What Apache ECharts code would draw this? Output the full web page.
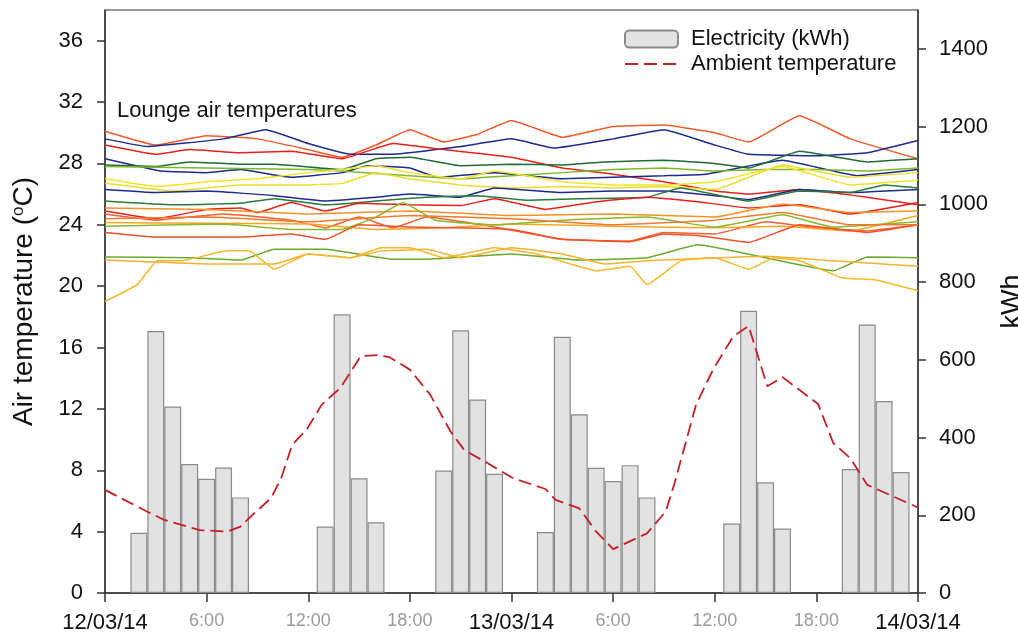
<!DOCTYPE html>
<html>
<head>
<meta charset="utf-8">
<script src="https://cdn.jsdelivr.net/npm/echarts@6/dist/echarts.min.js"></script>
<style>
html,body{margin:0;padding:0;background:#fff;}
#chart{width:1018px;height:639px;}
</style>
</head>
<body>
<div id="chart"></div>
<script>
// ---- Data ----
var xTickLabels = ['12/03/14','6:00','12:00','18:00','13/03/14','6:00','12:00','18:00','14/03/14'];

var elecHours = [2,3,4,5,6,7,8, 13,14,15,16, 20,21,22,23, 26,27,28,29,30,31,32, 37,38,39,40, 44,45,46,47];
var elecKWh   = [155,674,480,332,294,323,246, 171,717,295,182, 315,676,498,307, 157,659,460,322,288,329,246, 179,726,285,166, 319,691,494,311];

var ambient = [[0,6.72],[2.5,5.3],[3.5,4.76],[5.6,4.1],[7.2,4.0],[8,4.33],[8.6,4.98],[9.8,6.18],[10.4,7.48],[11.05,9.66],[11.9,10.64],[12.8,12.28],[13.9,13.37],[15.1,15.44],[16.1,15.5],[16.8,15.37],[18,14.56],[19.2,12.93],[20.4,10.53],[21.2,9.33],[22.4,8.58],[24.1,7.48],[26,6.78],[26.6,6.07],[28,5.52],[29,4.0],[30,2.86],[32,3.89],[33.1,5.3],[33.6,7.05],[34.9,12.28],[35.9,14.56],[37.1,16.74],[38,17.4],[39.1,13.48],[40,14.07],[42.1,12.32],[43,9.77],[44,8.79],[45,7.05],[48,5.57]];

var loungeA = [[0,30.1],[3,29.2],[6,29.8],[9,29.6],[12,28.9],[14,28.4],[16,29.2],[18,30.2],[20,29.4],[22,29.9],[24,30.8],[27,29.7],[30,30.4],[33,30.5],[36,30.0],[38,29.4],[41,31.1],[44,29.6],[48,28.3]];
var loungeB = [[0,29.6],[2.5,29.1],[7,29.6],[9.5,30.2],[12,29.3],[14.5,28.6],[17,28.6],[21,29.1],[24,29.6],[26.5,29.0],[30,29.6],[33,30.2],[36,29.2],[38,28.6],[42,28.5],[45,28.7],[48,29.5]];
var loungeC = [[0,29.2],[3,28.6],[5,28.9],[8,28.7],[11,28.8],[14,28.3],[17,29.3],[20,28.9],[24,28.4],[27,27.7],[30,27.3],[33,26.8],[36,26.2],[38,26.0],[41,26.3],[45,25.8],[48,25.3]];
var loungeD = [[0,28.3],[3.3,27.5],[6,27.4],[8,27.6],[11,27.1],[14,27.4],[15.5,27.85],[18,27.7],[19.6,27.1],[23,27.4],[27,27.0],[30,27.1],[33,27.2],[35.5,27.3],[40,28.2],[44.4,27.2],[48,27.6]];
var loungeE = [[0,27.9],[3,27.8],[5,28.1],[8,27.95],[10,27.95],[14,27.6],[16,28.3],[18,28.4],[21,27.85],[24,27.95],[27,27.9],[29.5,28.1],[33,28.2],[36,28.0],[38,27.7],[41,28.8],[45,28.1],[48,28.3]];
var loungeF = [[0,27.8],[6,27.7],[12,27.6],[14,27.5],[18,27.2],[21,27.0],[24,27.2],[27,27.4],[30,27.6],[33,27.7],[36,27.5],[39,27.6],[42,27.6],[45,27.5],[48,27.7]];
var loungeG = [[0,27.0],[3,26.5],[6,26.8],[9,27.0],[12,27.4],[14,27.6],[16,27.85],[18,27.4],[21,27.0],[23,27.5],[27,26.8],[30,26.6],[33,26.6],[36,26.8],[40,27.8],[44,26.6],[48,26.9]];
var loungeH = [[0,26.7],[4,26.2],[8,26.6],[12,26.6],[14,26.7],[16,27.4],[18,27.0],[21,26.6],[24,26.4],[27,26.5],[30,26.4],[33,26.5],[36,26.3],[40,27.9],[44,27.1],[48,27.4]];
var loungeI = [[0,26.3],[3,26.1],[6,26.2],[10,25.9],[13,25.55],[16,25.8],[18,26.0],[21,25.8],[23,26.4],[27,26.1],[30,26.2],[33,26.2],[36,25.9],[38,25.65],[41,26.3],[44,26.1],[48,26.3]];
var loungeJ = [[0,25.55],[4,25.3],[8,25.4],[10,25.7],[13,25.3],[16,25.55],[19,25.8],[22,25.9],[25,25.6],[28,25.7],[32,25.8],[34,26.4],[38,25.55],[41,26.2],[44,26.1],[46,26.6],[48,26.4]];
var loungeK = [[0,24.9],[3,24.4],[6,25.0],[8,25.1],[9,24.8],[11,25.45],[13,24.9],[15,25.4],[18,25.3],[21,25.25],[23,25.7],[26,25.0],[29,25.5],[32,25.8],[35,25.5],[38,25.1],[41,25.3],[44,24.7],[48,25.45]];
var loungeL = [[0,25.1],[6,25.0],[12,24.7],[18,24.9],[24,24.6],[30,24.7],[36,24.5],[40,25.35],[44,24.8],[48,24.9]];
var loungeM = [[0,24.7],[3,24.3],[7,24.7],[11,24.3],[13,23.8],[15,24.5],[17,23.8],[19,24.5],[23,23.85],[27,23.05],[31,22.95],[33,23.5],[36,23.4],[39,24.2],[42,23.8],[45,23.6],[48,24.0]];
var loungeN = [[0,24.15],[6,24.1],[12,24.05],[16,23.7],[20,23.8],[24,24.05],[30,23.9],[36,23.8],[40,23.9],[44,23.6],[48,24.6]];
var loungeO = [[0,23.9],[7,24.05],[11,23.7],[14,23.7],[16,24.5],[17.6,25.45],[19.5,24.3],[23,24.0],[27,24.3],[32,24.5],[36,23.85],[40,24.65],[43,23.85],[48,24.2]];
var loungeP = [[0,23.5],[3,23.2],[8,23.2],[11,23.4],[13,23.05],[15,24.0],[18,23.85],[24,23.7],[27,23.05],[31,22.9],[33,23.4],[35,23.3],[38,22.85],[41,24.0],[45,23.5],[48,24.0]];
var loungeQ = [[0,21.9],[5,21.85],[8,21.7],[10,22.4],[13,22.4],[17,21.75],[19,21.75],[24,22.1],[28,21.7],[32,21.85],[35,22.7],[43,21.0],[45,21.9],[48,21.85]];
var loungeR = [[0,21.7],[6,21.45],[10,21.45],[12,22.1],[14.5,21.85],[16.3,22.3],[19,22.4],[21,21.85],[24,22.5],[27,22.1],[29.5,21.45],[32,21.65],[39,21.95],[43,21.65],[48,21.3]];
var loungeS = [[0,19.0],[1.9,20.1],[3.1,21.65],[4.5,21.65],[7.2,22.3],[8.5,22.3],[10,21.1],[12,22.1],[14.5,21.85],[16.3,22.5],[18,22.5],[20,21.85],[23,22.5],[25.5,22.1],[29,21.0],[31,21.3],[32,20.1],[34,21.65],[36,21.85],[38,21.1],[39.5,21.85],[41,21.65],[43.5,20.55],[45.5,20.4],[48,19.7]];
var loungeT = [[0,24.4],[6,24.5],[12,24.2],[18,24.6],[24,24.4],[30,24.0],[36,24.3],[40,24.8],[44,24.0],[48,24.0]];

var loungeSeries = [
  {data: loungeA, color: '#f05a28'},
  {data: loungeB, color: '#1c2a8c'},
  {data: loungeC, color: '#e8201c'},
  {data: loungeD, color: '#1c2a8c'},
  {data: loungeE, color: '#1e6b34'},
  {data: loungeF, color: '#7cb82a'},
  {data: loungeG, color: '#f2e424'},
  {data: loungeH, color: '#eedc2a'},
  {data: loungeI, color: '#1c2a8c'},
  {data: loungeJ, color: '#2a7a3a'},
  {data: loungeK, color: '#e8201c'},
  {data: loungeL, color: '#f39223'},
  {data: loungeM, color: '#f06030'},
  {data: loungeN, color: '#f5a623'},
  {data: loungeO, color: '#8ab82a'},
  {data: loungeP, color: '#f05028'},
  {data: loungeQ, color: '#6aaa2a'},
  {data: loungeR, color: '#f5b030'},
  {data: loungeS, color: '#f5b82a'},
  {data: loungeT, color: '#f07830'}
];

// ---- Chart ----
var FONT = '"Liberation Sans", Arial, sans-serif';
var chart = echarts.init(document.getElementById('chart'), null, {renderer: 'canvas'});

var series = [];
series.push({
  name: 'Electricity (kWh)',
  type: 'bar',
  yAxisIndex: 1,
  barWidth: '100%',
  data: elecHours.map(function (h, i) { return [h, elecKWh[i]]; }),
  itemStyle: {color: '#e2e2e2', borderColor: '#8a8a8a', borderWidth: 1.2},
  silent: true,
  z: 2
});
loungeSeries.forEach(function (s, i) {
  series.push({
    name: 'lounge' + i,
    type: 'line',
    data: s.data,
    symbol: 'none',
    smooth: 0.1,
    lineStyle: {color: s.color, width: 1.5},
    silent: true,
    z: 3
  });
});
series.push({
  name: 'Ambient temperature',
  type: 'line',
  data: ambient,
  symbol: 'none',
  lineStyle: {color: '#c41e26', width: 1.8, type: [13, 6]},
  itemStyle: {color: '#c41e26'},
  silent: true,
  z: 4
});

var axisLineStyle = {color: '#333', width: 1.5};

chart.setOption({
  animation: false,
  backgroundColor: '#fff',
  textStyle: {fontFamily: FONT},
  grid: {left: 105, right: 100, top: 10, bottom: 46, show: true, borderColor: '#333', borderWidth: 1, outerBoundsMode: 'none', containLabel: false},
  legend: {
    data: ['Electricity (kWh)', {name: 'Ambient temperature', itemStyle: {opacity: 0}}],
    orient: 'vertical',
    left: 624,
    top: 28,
    padding: 0,
    itemWidth: 53,
    itemHeight: 17,
    itemGap: 3,
    selectedMode: false,
    textStyle: {fontSize: 22, color: '#111', fontFamily: FONT, padding: [0, 0, 0, 8]}
  },
  graphic: [{
    type: 'text',
    left: 117,
    top: 100,
    style: {text: 'Lounge air temperatures', font: '22px ' + FONT, fill: '#111'}
  }],
  xAxis: {
    type: 'value',
    min: 0, max: 48, interval: 6,
    axisLine: {lineStyle: axisLineStyle},
    axisTick: {length: 9, lineStyle: axisLineStyle},
    splitLine: {show: false},
    axisLabel: {
      margin: 19,
      formatter: function (v) {
        var lab = xTickLabels[Math.round(v / 6)];
        return (v % 24 === 0) ? '{d|' + lab + '}' : '{h|' + lab + '}';
      },
      rich: {
        d: {fontSize: 22, color: '#111', fontFamily: FONT},
        h: {fontSize: 18, color: '#9a9a9a', fontFamily: FONT}
      }
    }
  },
  yAxis: [{
    type: 'value',
    min: 0, max: 38, interval: 4,
    position: 'left',
    name: '{a|Air temperature (}{s|o}{a|C)}',
    nameLocation: 'middle',
    nameGap: 66,
    nameRotate: 90,
    nameTextStyle: {
      rich: {
        a: {fontSize: 28, color: '#111', fontFamily: FONT},
        s: {fontSize: 17, color: '#111', fontFamily: FONT, verticalAlign: 'top', padding: [0, 0, 12, 0]}
      }
    },
    axisLine: {show: true, lineStyle: axisLineStyle},
    axisTick: {show: true, length: 8, lineStyle: axisLineStyle},
    splitLine: {show: false},
    axisLabel: {fontSize: 22, color: '#111', margin: 22, showMaxLabel: false, fontFamily: FONT}
  }, {
    type: 'value',
    min: 0, max: 1500, interval: 200,
    position: 'right',
    name: 'kWh',
    nameLocation: 'middle',
    nameGap: 73,
    nameRotate: 90,
    nameTextStyle: {fontSize: 27, color: '#111', fontFamily: FONT},
    axisLine: {show: true, lineStyle: axisLineStyle},
    axisTick: {show: true, length: 8, lineStyle: axisLineStyle},
    splitLine: {show: false},
    axisLabel: {fontSize: 22, color: '#111', margin: 21, showMaxLabel: false, fontFamily: FONT,
      formatter: function (v) { return String(v); }}
  }],
  series: series
});
</script>
</body>
</html>
